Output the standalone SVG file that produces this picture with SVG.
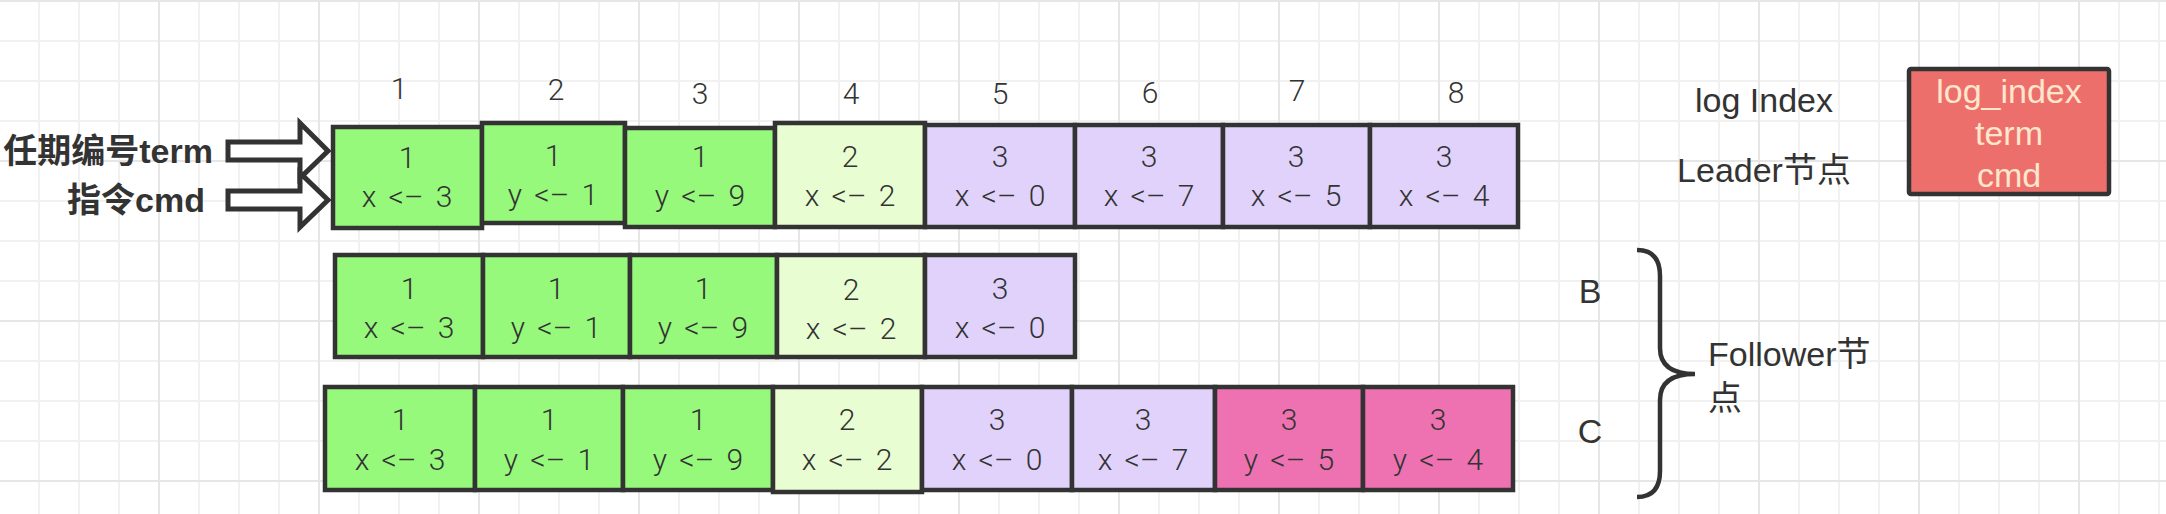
<svg xmlns="http://www.w3.org/2000/svg" width="2166" height="514" viewBox="0 0 2166 514">
<defs>
<pattern id="grid" x="-2" y="0" width="160" height="160" patternUnits="userSpaceOnUse">
<path d="M41 0V160M81 0V160M121 0V160M0 41H160M0 81H160M0 121H160" stroke="#f1f1f1" stroke-width="2" fill="none"/>
<path d="M1 0V160M0 1H160" stroke="#e6e6e6" stroke-width="2" fill="none"/>
</pattern>
</defs>
<style>
.cell{stroke:#333;stroke-width:4.5}
.g{fill:#96f97b}
.l{fill:#e8fdd1}
.p{fill:#e0d2fa}
.k{fill:#ee72b1}
.t{font-family:Roboto,"Liberation Sans",sans-serif;font-weight:300;font-size:30px;fill:#333;text-anchor:middle;word-spacing:5px}
.idx{font-family:Roboto,"Liberation Sans",sans-serif;font-weight:300;font-size:30px;fill:#333;text-anchor:middle}
.lab{font-family:"Liberation Sans","Noto Sans CJK SC",sans-serif;font-size:34px;fill:#333}
.bold{font-family:"Liberation Sans","Noto Sans CJK SC",sans-serif;font-weight:bold;font-size:34px;fill:#333;text-anchor:end}
.arrow{fill:#fff;stroke:#333;stroke-width:5;stroke-linejoin:miter}
</style>
<rect width="2166" height="514" fill="#fff"/>
<rect width="2166" height="514" fill="url(#grid)"/>

<g id="index-labels">
<text class="idx" x="399" y="99">1</text>
<text class="idx" x="556" y="100">2</text>
<text class="idx" x="700" y="104">3</text>
<text class="idx" x="851" y="104">4</text>
<text class="idx" x="1000" y="104">5</text>
<text class="idx" x="1150" y="103">6</text>
<text class="idx" x="1297" y="101">7</text>
<text class="idx" x="1456" y="103">8</text>
</g>

<g id="label-term"><text class="bold" x="213" y="163">任期编号term</text></g>
<g id="label-cmd"><text class="bold" x="205" y="212">指令cmd</text></g>

<g id="connectors">
<polygon class="arrow" points="228,142 300,142 300,123 328,151 300,178 300,160 228,160"/>
<polygon class="arrow" points="228,191 300,191 300,173 328,200 300,227 300,209 228,209"/>
</g>

<!-- Leader row -->
<g id="leader-1"><rect class="cell g" x="333" y="127" width="149" height="101"/><text class="t" x="407" y="168">1</text><text class="t" x="407" y="207">x &lt;– 3</text></g>
<g id="leader-2"><rect class="cell g" x="482" y="123" width="143" height="100"/><text class="t" x="553" y="166">1</text><text class="t" x="553" y="205">y &lt;– 1</text></g>
<g id="leader-3"><rect class="cell g" x="625" y="128" width="150" height="99"/><text class="t" x="700" y="167">1</text><text class="t" x="700" y="206">y &lt;– 9</text></g>
<g id="leader-4"><rect class="cell l" x="775" y="123" width="150" height="104"/><text class="t" x="850" y="167">2</text><text class="t" x="850" y="206">x &lt;– 2</text></g>
<g id="leader-5"><rect class="cell p" x="925" y="125" width="150" height="102"/><text class="t" x="1000" y="167">3</text><text class="t" x="1000" y="206">x &lt;– 0</text></g>
<g id="leader-6"><rect class="cell p" x="1075" y="125" width="148" height="102"/><text class="t" x="1149" y="167">3</text><text class="t" x="1149" y="206">x &lt;– 7</text></g>
<g id="leader-7"><rect class="cell p" x="1223" y="125" width="147" height="102"/><text class="t" x="1296" y="167">3</text><text class="t" x="1296" y="206">x &lt;– 5</text></g>
<g id="leader-8"><rect class="cell p" x="1370" y="125" width="148" height="102"/><text class="t" x="1444" y="167">3</text><text class="t" x="1444" y="206">x &lt;– 4</text></g>

<!-- Follower B -->
<g id="b-1"><rect class="cell g" x="335" y="255" width="148" height="102"/><text class="t" x="409" y="299">1</text><text class="t" x="409" y="338">x &lt;– 3</text></g>
<g id="b-2"><rect class="cell g" x="483" y="255" width="147" height="102"/><text class="t" x="556" y="299">1</text><text class="t" x="556" y="338">y &lt;– 1</text></g>
<g id="b-3"><rect class="cell g" x="630" y="255" width="147" height="102"/><text class="t" x="703" y="299">1</text><text class="t" x="703" y="338">y &lt;– 9</text></g>
<g id="b-4"><rect class="cell l" x="777" y="255" width="148" height="102"/><text class="t" x="851" y="300">2</text><text class="t" x="851" y="339">x &lt;– 2</text></g>
<g id="b-5"><rect class="cell p" x="925" y="255" width="150" height="102"/><text class="t" x="1000" y="299">3</text><text class="t" x="1000" y="338">x &lt;– 0</text></g>

<!-- Follower C -->
<g id="c-1"><rect class="cell g" x="325" y="387" width="150" height="103"/><text class="t" x="400" y="430">1</text><text class="t" x="400" y="470">x &lt;– 3</text></g>
<g id="c-2"><rect class="cell g" x="475" y="387" width="148" height="103"/><text class="t" x="549" y="430">1</text><text class="t" x="549" y="470">y &lt;– 1</text></g>
<g id="c-3"><rect class="cell g" x="623" y="387" width="150" height="103"/><text class="t" x="698" y="430">1</text><text class="t" x="698" y="470">y &lt;– 9</text></g>
<g id="c-4"><rect class="cell l" x="773" y="387" width="149" height="105"/><text class="t" x="847" y="430">2</text><text class="t" x="847" y="470">x &lt;– 2</text></g>
<g id="c-5"><rect class="cell p" x="922" y="387" width="150" height="103"/><text class="t" x="997" y="430">3</text><text class="t" x="997" y="470">x &lt;– 0</text></g>
<g id="c-6"><rect class="cell p" x="1072" y="387" width="143" height="103"/><text class="t" x="1143" y="430">3</text><text class="t" x="1143" y="470">x &lt;– 7</text></g>
<g id="c-7"><rect class="cell k" x="1215" y="387" width="148" height="103"/><text class="t" x="1289" y="430">3</text><text class="t" x="1289" y="470">y &lt;– 5</text></g>
<g id="c-8"><rect class="cell k" x="1363" y="387" width="150" height="103"/><text class="t" x="1438" y="430">3</text><text class="t" x="1438" y="470">y &lt;– 4</text></g>

<g id="legend-labels">
<text class="lab" x="1764" y="112" text-anchor="middle">log Index</text>
<text class="lab" x="1764" y="182" text-anchor="middle">Leader节点</text>
</g>
<g id="legend-box">
<rect x="1909" y="69" width="200" height="125" rx="2" fill="#ed6f6c" stroke="#333" stroke-width="4.5"/>
<text class="lab" x="2009" y="103" text-anchor="middle" style="fill:#ffe6cc">log_index</text>
<text class="lab" x="2009" y="145" text-anchor="middle" style="fill:#ffe6cc">term</text>
<text class="lab" x="2009" y="187" text-anchor="middle" style="fill:#ffe6cc">cmd</text>
</g>

<g id="label-b"><text class="lab" x="1590" y="303" text-anchor="middle">B</text></g>
<g id="label-c"><text class="lab" x="1590" y="443" text-anchor="middle">C</text></g>
<g id="brace"><path d="M1637 250C1652 250 1660 258 1660 276V348C1660 366 1672 374 1695 374C1672 374 1660 382 1660 400V471C1660 489 1652 497 1637 497" fill="none" stroke="#333" stroke-width="4.5"/></g>
<g id="label-follower"><text class="lab" x="1708" y="366">Follower节<tspan x="1708" y="410">点</tspan></text></g>
</svg>
